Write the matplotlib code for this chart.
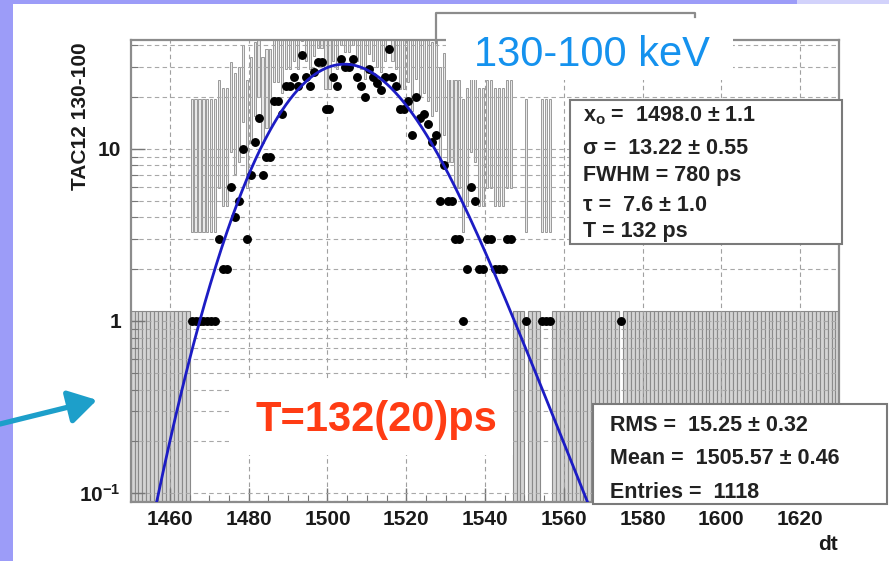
import math

import numpy as np
import matplotlib
matplotlib.use("Agg")
import matplotlib.pyplot as plt
from matplotlib.patches import Rectangle
from matplotlib.ticker import FixedLocator, FixedFormatter, NullFormatter

plt.rcParams["font.family"] = ["Liberation Sans", "DejaVu Sans"]
plt.rcParams["mathtext.fontset"] = "custom"
plt.rcParams["mathtext.rm"] = "Liberation Sans:bold"
plt.rcParams["mathtext.bf"] = "Liberation Sans:bold"
plt.rcParams["mathtext.default"] = "rm"

# --------------------------------------------------------------------------- #
#  Data
# --------------------------------------------------------------------------- #
X_RANGE = (1450, 1630)          # histogram range, 1 unit bins
FIRST_BIN = 1465                 # low edge of first filled bin
COUNTS = [
    1, 1, 1, 1, 1, 1, 1,                         # 1465-1471
    3, 2, 2, 6, 4, 5, 10, 3, 7, 11, 15, 7,       # 1472-1483
    9, 9, 19, 19, 16, 23, 23,                    # 1484-1490
    26, 23, 35, 26, 23, 28, 32, 32, 17, 17,      # 1491-1500
    26, 23, 33, 30, 30, 33, 26, 23, 20, 29,      # 1501-1510
    26, 24, 22, 26, 38, 26, 23, 17, 17, 19,      # 1511-1520
    12, 20, 15, 16, 14, 11, 12, 5, 8, 5,         # 1521-1530
    5, 3, 3, 1, 2, 6, 5, 2, 2, 3, 3, 2, 2, 2, 3, 3, 0,   # 1531-1547
]
LATE_BINS = [1550, 1554, 1555, 1556, 1574]
LATE_COUNTS = [1, 1, 1, 1, 1]
ZERO_UPPER = 1.15                # drawn upper error for empty bins

# fit (exp-modified gaussian) parameters from the stats box
FIT_X0 = 1498.0
FIT_SIGMA = 13.22
FIT_TAU = 7.6
FIT_AREA = 1150.0

YLIM = (0.0889, 42.8)
X_MAJOR = [1460, 1480, 1500, 1520, 1540, 1560, 1580, 1600, 1620]

FIT_LINES = [
    (r"$\mathbf{x_o}$ =  1498.0 ± 1.1", 116),
    ("σ =  13.22 ± 0.55", 148),
    ("FWHM = 780 ps", 175),
    ("τ =  7.6 ± 1.0", 205),
    ("T = 132 ps", 231),
]
STAT_LINES = [
    ("RMS =  15.25 ± 0.32", 425),
    ("Mean =  1505.57 ± 0.46", 458),
    ("Entries =  1118", 492),
]


# --------------------------------------------------------------------------- #
#  helpers
# --------------------------------------------------------------------------- #
def poisson_cdf(k, mu):
    if k < 0:
        return 0.0
    term = math.exp(-mu)
    s = term
    for i in range(1, k + 1):
        term *= mu / i
        s += term
    return s


def poisson_interval(n, alpha=0.15865):
    """Central 68 % Poisson interval (same as ROOT kPoisson)."""
    def solve(f, lo, hi):
        for _ in range(80):
            mid = 0.5 * (lo + hi)
            if f(mid) > 0:
                lo = mid
            else:
                hi = mid
        return 0.5 * (lo + hi)
    top = n + 10 + 6 * math.sqrt(n + 1)
    up = solve(lambda mu: poisson_cdf(n, mu) - alpha, 0.0, top)
    low = solve(lambda mu: (1 - poisson_cdf(n - 1, mu)) - alpha, 0.0, top) if n > 0 else 0.0
    return low, up


def emg(x, area, x0, sigma, tau):
    lam = 1.0 / tau
    arg = (x0 + lam * sigma ** 2 - x) / (np.sqrt(2) * sigma)
    erfc = np.vectorize(math.erfc)(arg)
    return area * lam / 2 * np.exp(lam / 2 * (2 * x0 + lam * sigma ** 2 - 2 * x)) * erfc


# --------------------------------------------------------------------------- #
#  histogram arrays
# --------------------------------------------------------------------------- #
edges = np.arange(X_RANGE[0], X_RANGE[1] + 1)
counts = np.zeros(len(edges) - 1, dtype=int)
counts[FIRST_BIN - X_RANGE[0]:FIRST_BIN - X_RANGE[0] + len(COUNTS)] = COUNTS
for b, c in zip(LATE_BINS, LATE_COUNTS):
    counts[b - X_RANGE[0]] = c
centers = edges[:-1] + 0.5

lows, ups = [], []
for n in counts:
    if n == 0:
        lows.append(1e-3)
        ups.append(ZERO_UPPER)
    else:
        lo, up = poisson_interval(int(n))
        lows.append(lo)
        ups.append(up)
lows = np.array(lows)
ups = np.array(ups)
empty = counts == 0

# --------------------------------------------------------------------------- #
#  figure
# --------------------------------------------------------------------------- #
W, H = 889, 561
fig = plt.figure(figsize=(W / 100, H / 100), dpi=100)
fig.patch.set_facecolor("white")

ax = fig.add_axes([130.6 / W, 1 - 502 / H, (839.4 - 130.6) / W, (502 - 40) / H])
ax.set_yscale("log")
ax.set_xlim(*X_RANGE)
ax.set_ylim(*YLIM)
ax.set_axisbelow(True)

# error boxes: empty bins darker, filled bins thin light outlines
ax.bar(centers[empty], (ups - lows)[empty], bottom=lows[empty], width=1.0,
       color="#d4d4d4", edgecolor="#8a8a8a", linewidth=0.8, zorder=0.3)
ax.bar(centers[~empty], (ups - lows)[~empty], bottom=lows[~empty], width=0.55,
       color="#e8e8e8", edgecolor="#9a9a9a", linewidth=0.7, zorder=0.3)

# points
m = ~empty
ax.errorbar(centers[m], counts[m], xerr=0.5, fmt="o", color="black",
            ms=5.4, elinewidth=2.8, capsize=0, zorder=3)

# fit curve
xf = np.linspace(X_RANGE[0], X_RANGE[1], 900)
ax.plot(xf, emg(xf, FIT_AREA, FIT_X0, FIT_SIGMA, FIT_TAU),
        color="#1c1cc4", lw=2.0, zorder=4)

# ticks and grid
ax.xaxis.set_major_locator(FixedLocator(X_MAJOR))
ax.xaxis.set_minor_locator(FixedLocator(np.arange(1450, 1631, 5)))
ax.yaxis.set_major_locator(FixedLocator([0.1, 1, 10]))
ax.yaxis.set_major_formatter(FixedFormatter([r"$10^{-1}$", "1", "10"]))
minor_y = [s * 10.0 ** e for e in (-2, -1, 0, 1) for s in range(2, 10)]
ax.yaxis.set_minor_locator(FixedLocator(minor_y))
ax.yaxis.set_minor_formatter(NullFormatter())

ax.grid(True, which="major", axis="x", color="#a0a0a0", lw=0.8, ls=(0, (4, 3)))
ax.grid(True, which="both", axis="y", color="#a8a8a8", lw=0.8, ls=(0, (4, 3)))

ax.tick_params(which="both", direction="in", color="#777777")
ax.tick_params(which="major", length=10, width=1)
ax.tick_params(which="minor", length=5, width=0.8)
ax.tick_params(axis="x", pad=6, labelsize=15, labelcolor="#1a1a1a")
ax.tick_params(axis="y", pad=7, labelsize=15, labelcolor="#1a1a1a")
for lab in ax.get_xticklabels() + ax.get_yticklabels():
    lab.set_fontweight("bold")
for sp in ax.spines.values():
    sp.set_color("#8c8c8c")
    sp.set_linewidth(1.6)

# --------------------------------------------------------------------------- #
#  overlay (slide elements, stats boxes), pixel coordinates
# --------------------------------------------------------------------------- #
ov = fig.add_axes([0, 0, 1, 1], zorder=10)
ov.set_xlim(0, W)
ov.set_ylim(H, 0)
ov.axis("off")
ov.patch.set_alpha(0)

# slide border
ov.add_patch(Rectangle((0, 0), 13, H, color="#9c9cf8", lw=0))
ov.add_patch(Rectangle((0, 0), 797, 4, color="#9c9cf8", lw=0))
ov.add_patch(Rectangle((797, 0), W - 797, 4, color="#d2d2fb", lw=0))

# title pave remnant + white label box
ov.plot([436, 436, 695, 695], [43, 13, 13, 17], color="#8c8c8c", lw=1.6)
ov.add_patch(Rectangle((446, 16), 287, 64, color="white", lw=0))
ov.text(592, 55, "130-100 keV", color="#1592ee", fontsize=30,
        ha="center", va="center")

# T=132(20)ps box
ov.add_patch(Rectangle((229, 380), 284, 75, color="white", lw=0))
ov.text(376, 420, "T=132(20)ps", color="#ff3c14", fontsize=30,
        fontweight="bold", ha="center", va="center")

# fit stats box
ov.add_patch(Rectangle((570, 100), 272, 144, facecolor="white",
                       edgecolor="#7a7a7a", lw=1.5))
for txt, y in FIT_LINES:
    ov.text(583, y, txt, fontsize=15.5, fontweight="bold", color="#222222",
            ha="left", va="center")

# histogram stats box
ov.add_patch(Rectangle((593, 404), 294, 100, facecolor="white",
                       edgecolor="#7a7a7a", lw=1.5))
for txt, y in STAT_LINES:
    ov.text(610, y, txt, fontsize=15.5, fontweight="bold", color="#222222",
            ha="left", va="center")

# axis titles
ov.text(80, 116, "TAC12 130-100", rotation=90, fontsize=15, fontweight="bold",
        color="#1a1a1a", ha="center", va="center")
ov.text(828, 545, "dt", fontsize=15, fontweight="bold", color="#1a1a1a",
        ha="center", va="center")

# arrow
ov.annotate("", xy=(97, 400), xytext=(0, 424),
            arrowprops=dict(arrowstyle="-|>,head_length=1.0,head_width=0.6",
                            mutation_scale=17, lw=3.8, color="#1d9fca",
                            shrinkA=0, shrinkB=0))

fig.savefig("out.png", dpi=100)
